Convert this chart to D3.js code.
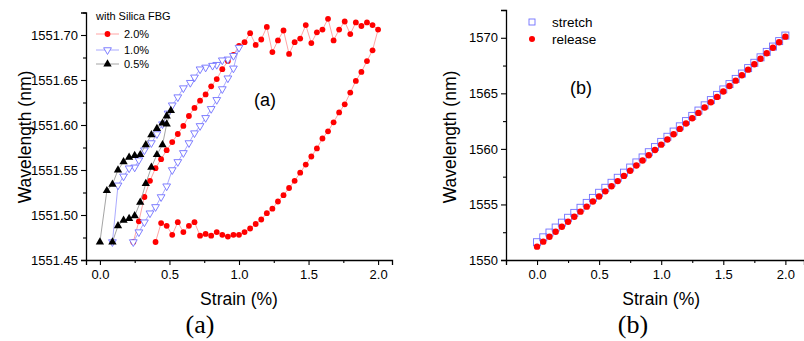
<!DOCTYPE html>
<html><head><meta charset="utf-8">
<script src="https://cdn.jsdelivr.net/npm/d3@7"></script>
<style>
body{margin:0;background:#fff;}
svg{display:block;font-family:"Liberation Sans",Arial,sans-serif;}
</style></head>
<body><svg id="c" width="804" height="341"></svg>
<script>
// ---------- Panel (a) data ----------
const redStrain = [0.24,0.28,0.32,0.36,0.40,0.44,0.48,0.52,0.56,0.60,0.64,0.68,0.72,0.76,0.80,0.84,0.88,0.92,0.96,1.00,1.04,1.08,1.12,1.16,1.20,1.24,1.28,1.32,1.36,1.40,1.44,1.48,1.52,1.56,1.60,1.64,1.68,1.72,1.76,1.80,1.84,1.88,1.92,1.96,2.00,
  1.96,1.92,1.88,1.84,1.80,1.76,1.72,1.68,1.64,1.60,1.56,1.52,1.48,1.44,1.40,1.36,1.32,1.28,1.24,1.20,1.16,1.12,1.08,1.04,1.00,0.96,0.92,0.88,0.84,0.80,0.76,0.72,0.68,0.64,0.60,0.56,0.52,0.48,0.44,0.40];
const redWl = [1551.470,1551.493,1551.520,1551.538,1551.552,1551.562,1551.572,1551.581,1551.590,1551.599,1551.610,1551.619,1551.627,1551.634,1551.643,1551.651,1551.662,1551.671,1551.678,1551.688,1551.692,1551.702,1551.689,1551.695,1551.709,1551.681,1551.694,1551.705,1551.679,1551.692,1551.696,1551.711,1551.691,1551.703,1551.706,1551.718,1551.694,1551.706,1551.715,1551.701,1551.714,1551.710,1551.714,1551.711,1551.706,
  1551.683,1551.671,1551.659,1551.649,1551.636,1551.623,1551.614,1551.603,1551.593,1551.585,1551.574,1551.565,1551.556,1551.547,1551.538,1551.530,1551.522,1551.515,1551.507,1551.502,1551.495,1551.490,1551.485,1551.481,1551.478,1551.478,1551.476,1551.478,1551.481,1551.477,1551.479,1551.477,1551.492,1551.488,1551.481,1551.492,1551.478,1551.488,1551.491,1551.470];
const blueStrain = [0.24,0.28,0.32,0.36,0.40,0.44,0.48,0.52,0.56,0.60,0.64,0.68,0.72,0.76,0.80,0.84,0.88,0.92,0.96,1.00,
  0.96,0.92,0.88,0.84,0.81,0.76,0.72,0.68,0.65,0.60,0.56,0.52,0.49,0.45,0.41,0.37,0.32,0.28,0.25,0.21,0.17,0.13,0.09];
const blueWl = [1551.470,1551.481,1551.492,1551.502,1551.509,1551.520,1551.532,1551.550,1551.559,1551.569,1551.580,1551.591,1551.599,1551.608,1551.618,1551.628,1551.640,1551.652,1551.663,1551.686,
  1551.677,1551.673,1551.672,1551.667,1551.666,1551.664,1551.662,1551.653,1551.647,1551.641,1551.631,1551.622,1551.613,1551.601,1551.590,1551.580,1551.572,1551.561,1551.553,1551.552,1551.543,1551.533,1551.470];
const blackStrain = [0,0.05,0.09,0.13,0.17,0.21,0.25,0.29,0.33,0.37,0.41,0.45,0.48,0.51,0.48,0.45,0.41,0.37,0.33,0.29,0.25,0.21,0.17,0.13,0.09];
const blackWl = [1551.470,1551.527,1551.534,1551.550,1551.559,1551.564,1551.566,1551.567,1551.578,1551.589,1551.596,1551.602,1551.610,1551.616,1551.601,1551.578,1551.567,1551.553,1551.535,1551.514,1551.499,1551.496,1551.494,1551.488,1551.470];
const legendA = ["2.0%","1.0%","0.5%"];
const yTicksA = [1551.45,1551.50,1551.55,1551.60,1551.65,1551.70];
const xTicks = [0,0.5,1.0,1.5,2.0];

// ---------- Panel (b) data ----------
const bStrain = [0,0.05,0.10,0.15,0.20,0.25,0.30,0.35,0.40,0.45,0.50,0.55,0.60,0.65,0.70,0.75,0.80,0.85,0.90,0.95,1.00,1.05,1.10,1.15,1.20,1.25,1.30,1.35,1.40,1.45,1.50,1.55,1.60,1.65,1.70,1.75,1.80,1.85,1.90,1.95,2.00];
const bStretch = [1551.60,1552.04,1552.47,1552.92,1553.36,1553.80,1554.24,1554.70,1555.14,1555.59,1556.05,1556.50,1556.95,1557.40,1557.86,1558.32,1558.78,1559.23,1559.70,1560.16,1560.63,1561.09,1561.56,1562.03,1562.50,1562.97,1563.45,1563.92,1564.39,1564.86,1565.35,1565.83,1566.30,1566.78,1567.27,1567.75,1568.24,1568.73,1569.21,1569.70,1570.20];
const bRelease = [1551.20,1551.65,1552.09,1552.54,1552.99,1553.44,1553.89,1554.35,1554.80,1555.26,1555.72,1556.18,1556.64,1557.10,1557.57,1558.03,1558.50,1558.96,1559.43,1559.90,1560.38,1560.85,1561.32,1561.80,1562.28,1562.76,1563.24,1563.72,1564.20,1564.68,1565.17,1565.66,1566.14,1566.63,1567.13,1567.62,1568.11,1568.61,1569.10,1569.60,1570.10];
const legendB = ["stretch","release"];
const yTicksB = [1550,1555,1560,1565,1570];

const svg = d3.select("#c");
svg.append("rect").attr("width",804).attr("height",341).attr("fill","#fff");

const RED="#ff0000", REDL="#ff9a9a", BLUE="#7070ff", BLUEL="#a0a0ff", BLK="#000", BLKL="#9a9a9a";

function axes(g, x, y, yTicks, yMinor, xMinor, yFmt) {
  const ax = g.append("g").attr("transform",`translate(0,${y.range()[0]})`);
  ax.call(d3.axisBottom(x).tickValues(xTicks).tickFormat(d3.format(".1f")).tickSize(5).tickPadding(5));
  const axm = g.append("g").attr("transform",`translate(0,${y.range()[0]})`);
  axm.call(d3.axisBottom(x).tickValues(xMinor).tickFormat("").tickSize(3));
  axm.select(".domain").remove();
  const ay = g.append("g").attr("transform",`translate(${x.range()[0]},0)`);
  ay.call(d3.axisLeft(y).tickValues(yTicks).tickFormat(yFmt).tickSize(5).tickPadding(3));
  const aym = g.append("g").attr("transform",`translate(${x.range()[0]},0)`);
  aym.call(d3.axisLeft(y).tickValues(yMinor).tickFormat("").tickSize(3));
  aym.select(".domain").remove();
  g.selectAll(".domain").attr("stroke","#000").attr("stroke-width",1.3);
  g.selectAll(".tick line").attr("stroke","#000").attr("stroke-width",1.1);
  g.selectAll(".tick text").attr("font-size",13).attr("fill","#000")
    .attr("font-family","'Liberation Sans',Arial,sans-serif");
}

// ================= Panel (a) =================
const xa = d3.scaleLinear().domain([-0.1,2.1]).range([86,392]);
const ya = d3.scaleLinear().domain([1551.45,1551.725]).range([260,12.5]);
const ga = svg.append("g");
axes(ga, xa, ya, yTicksA, [1551.475,1551.525,1551.575,1551.625,1551.675,1551.725], [0.25,0.75,1.25,1.75], d3.format(".2f"));

function drawSeries(g, xs, ys, xsc, ysc, lineColor, kind, r) {
  g.append("path").attr("d", d3.line().x((d,i)=>xsc(xs[i])).y((d,i)=>ysc(ys[i]))(xs))
    .attr("fill","none").attr("stroke",lineColor).attr("stroke-width",0.9);
  const pts = xs.map((v,i)=>[xsc(v), ysc(ys[i])]);
  drawMarkers(g, pts, kind, r);
}
function drawMarkers(g, pts, kind, r) {
  if (kind==="circle") {
    g.selectAll(null).data(pts).enter().append("circle")
      .attr("cx",d=>d[0]).attr("cy",d=>d[1]).attr("r",r||2.9).attr("fill",RED);
  } else if (kind==="down") {
    g.selectAll(null).data(pts).enter().append("path")
      .attr("d", d3.symbol().type(d3.symbolTriangle).size(26)())
      .attr("transform",d=>`translate(${d[0]},${d[1]}) rotate(180)`)
      .attr("fill","#fff").attr("stroke",BLUE).attr("stroke-width",0.9);
  } else if (kind==="up") {
    g.selectAll(null).data(pts).enter().append("path")
      .attr("d", d3.symbol().type(d3.symbolTriangle).size(30)())
      .attr("transform",d=>`translate(${d[0]},${d[1]})`)
      .attr("fill",BLK);
  } else if (kind==="square") {
    const s = r||7;
    g.selectAll(null).data(pts).enter().append("rect")
      .attr("x",d=>d[0]-s/2).attr("y",d=>d[1]-s/2).attr("width",s).attr("height",s)
      .attr("fill","none").attr("stroke",BLUE).attr("stroke-width",0.9);
  }
}

drawSeries(ga, redStrain, redWl, xa, ya, REDL, "circle", 2.9);
drawSeries(ga, blueStrain, blueWl, xa, ya, BLUEL, "down");
drawSeries(ga, blackStrain, blackWl, xa, ya, BLKL, "up");

// legend (a)
ga.append("text").attr("x",96).attr("y",20).attr("font-size",11).text("with Silica FBG");
const legColors = [[REDL,"circle"],[BLUEL,"down"],[BLKL,"up"]];
const legY = [34,50,64];
legendA.forEach((t,i)=>{
  ga.append("line").attr("x1",96).attr("x2",119).attr("y1",legY[i]).attr("y2",legY[i])
    .attr("stroke",legColors[i][0]).attr("stroke-width",0.9);
  drawMarkers(ga, [[107.5, legY[i]]], legColors[i][1]);
  ga.append("text").attr("x",124).attr("y",legY[i]).attr("dy","0.36em").attr("font-size",11).text(t);
});
ga.append("text").attr("x",265).attr("y",100).attr("dy","0.36em").attr("text-anchor","middle").attr("font-size",18).text("(a)");
ga.append("text").attr("x",xa(1.0)).attr("y",305).attr("text-anchor","middle").attr("font-size",17.5).text("Strain (%)");
ga.append("text").attr("transform","translate(31,137) rotate(-90)").attr("text-anchor","middle").attr("font-size",17.5).text("Wavelength (nm)");
ga.append("text").attr("x",200).attr("y",333).attr("text-anchor","middle").attr("font-size",26)
  .attr("font-family","'Liberation Serif','Times New Roman',serif").text("(a)");

// ================= Panel (b) =================
const xb = d3.scaleLinear().domain([-0.25,2.15]).range([506,804]);
const yb = d3.scaleLinear().domain([1550,1572.5]).range([260,10]);
const gb = svg.append("g");
axes(gb, xb, yb, yTicksB, [1552.5,1557.5,1562.5,1567.5,1572.5], [-0.25,0.25,0.75,1.25,1.75], d3.format("d"));

drawMarkers(gb, bStrain.map((v,i)=>[xb(v), yb(bStretch[i])]), "square", 7);
drawMarkers(gb, bStrain.map((v,i)=>[xb(v), yb(bRelease[i])]), "circle", 3.2);

drawMarkers(gb, [[532,22]], "square", 6);
drawMarkers(gb, [[532,39]], "circle", 3);
legendB.forEach((t,i)=>{
  gb.append("text").attr("x",552).attr("y",[22,39][i]).attr("dy","0.36em").attr("font-size",13.5).text(t);
});
gb.append("text").attr("x",581).attr("y",88).attr("dy","0.36em").attr("text-anchor","middle").attr("font-size",18).text("(b)");
gb.append("text").attr("x",xb(1.0)).attr("y",305).attr("text-anchor","middle").attr("font-size",17.5).text("Strain (%)");
gb.append("text").attr("transform","translate(456,137) rotate(-90)").attr("text-anchor","middle").attr("font-size",17.5).text("Wavelength (nm)");
gb.append("text").attr("x",633).attr("y",333).attr("text-anchor","middle").attr("font-size",26)
  .attr("font-family","'Liberation Serif','Times New Roman',serif").text("(b)");
</script></body></html>
